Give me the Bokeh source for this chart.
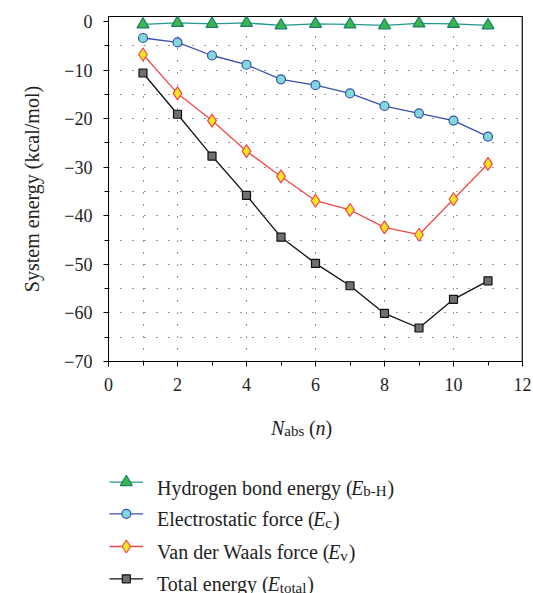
from bokeh.plotting import figure
from bokeh.layouts import column
from bokeh.models import Range1d, FixedTicker, Span, Title
from bokeh.core.properties import value
from bokeh.embed import file_html
from bokeh.resources import INLINE

n_abs = [1, 2, 3, 4, 5, 6, 7, 8, 9, 10, 11]
e_hbond = [-0.6, -0.3, -0.5, -0.3, -0.8, -0.5, -0.6, -0.8, -0.4, -0.5, -0.8]
e_elec = [-3.4, -4.3, -7.0, -8.9, -11.9, -13.1, -14.8, -17.4, -18.9, -20.4, -23.7]
e_vdw = [-6.8, -14.8, -20.4, -26.7, -31.9, -36.9, -38.8, -42.4, -43.9, -36.6, -29.3]
e_total = [-10.6, -19.1, -27.7, -35.8, -44.4, -49.8, -54.4, -60.1, -63.1, -57.2, -53.4]

y_ticks = [0, -10, -20, -30, -40, -50, -60, -70]
x_ticks = [0, 2, 4, 6, 8, 10, 12]
y_title = "System energy (kcal/mol)"

# legend label pieces: (text before symbol, subscript)
legend_main = ["Hydrogen bond energy (", "Electrostatic force (", "Van der Waals force (", "Total energy ("]
legend_sub = ["b-H", "c", "v", "total"]

SERIF = "'Liberation Serif', 'DejaVu Serif', serif"
TXT = "#222222"

# Times-compatible advance widths (per 1000 em) used only to place text pieces
_W = {" ": 250, "(": 333, ")": 333, "-": 333,
      "E": 611, "H": 722, "T": 611, "V": 722, "W": 944, "N": 722,
      "a": 444, "b": 500, "c": 444, "d": 500, "e": 444, "f": 333, "g": 500, "h": 500,
      "i": 278, "l": 278, "m": 778, "n": 500, "o": 500, "r": 333, "s": 389, "t": 278,
      "v": 500, "w": 722, "y": 500}
_K = {"Va": -111, "Wa": -80, "To": -80}
def tw(s, size):
    w = sum(_W.get(c, 500) for c in s)
    w += sum(_K.get(s[i:i + 2], 0) for i in range(len(s) - 1))
    return w * size / 1000.0

p = figure(width=533, height=398, output_backend="svg", toolbar_location=None,
           title_location=None,
           x_range=Range1d(0, 12), y_range=Range1d(-70, 1.03),
           min_border_left=104, min_border_right=11, min_border_top=16,
           min_border_bottom=37)
p.outline_line_color = "black"
p.outline_line_width = 1
p.background_fill_color = "white"

# axes
p.xaxis.ticker = FixedTicker(ticks=x_ticks, minor_ticks=[1, 3, 5, 7, 9, 11])
p.yaxis.ticker = FixedTicker(ticks=y_ticks, minor_ticks=[-5, -15, -25, -35, -45, -55, -65])
p.yaxis.major_label_overrides = {t: ("−%d" % -t if t < 0 else str(t)) for t in y_ticks}
for ax in (p.xaxis, p.yaxis):
    ax.major_tick_in = 0
    ax.major_tick_out = 5
    ax.minor_tick_in = 0
    ax.minor_tick_out = 4
    ax.axis_line_color = "black"
    ax.major_tick_line_color = "black"
    ax.minor_tick_line_color = "black"
    ax.major_label_text_font = SERIF
    ax.major_label_text_font_size = "18px"
    ax.major_label_text_color = TXT
p.xaxis.major_label_standoff = 11
p.yaxis.major_label_standoff = 11

# y title: a side title, shifted up along the axis as in the reference
p.add_layout(Title(text=y_title, align="center", offset=31, standoff=37,
                   text_font=SERIF, text_font_size="20px", text_font_style="normal",
                   text_color=TXT), "left")

# dotted grid
p.xgrid.ticker = FixedTicker(ticks=[1, 2, 4, 6, 8, 10])
p.ygrid.ticker = FixedTicker(ticks=[-65, -60, -55, -50, -45, -40, -35, -30, -25, -20, -15, -10, -5])
for g in (p.xgrid, p.ygrid):
    g.grid_line_color = "#333333"
    g.grid_line_dash = "1 11"
    g.grid_line_width = 1

p.add_layout(Span(location=12, dimension="height", line_color="#555555", line_width=2))

styles = [
    ("triangle", 12, "#3cb54a", "#15806f", "#1f9a8c"),
    ("circle", 9, "#80d8d8", "#3a4fb0", "#3a4fb0"),
    ("diamond", 13, "#f7e425", "#f04848", "#f04848"),
    ("square", 8, "#707070", "#111111", "#111111"),
]
for ys, (mk, ms, fc, lc, lnc) in zip([e_hbond, e_elec, e_vdw, e_total], styles):
    p.line(n_abs, ys, line_color=lnc, line_width=1.3)
    p.scatter(n_abs, ys, marker=mk, size=ms, fill_color=fc, line_color=lc, line_width=1.2)

# lower panel: x-axis title and legend, coordinates are page pixels minus 398
q = figure(width=533, height=195, output_backend="svg", toolbar_location=None,
           title_location=None, x_axis_location=None, y_axis_location=None,
           x_range=Range1d(104, 522), y_range=Range1d(195, 0),
           min_border_left=104, min_border_right=11,
           min_border_top=0, min_border_bottom=0)
q.grid.visible = False
q.outline_line_color = None

def piece(x, y, txt, size, style="normal"):
    q.text(x=[x], y=[y], text=[txt],
           text_font=value(SERIF), text_font_size="%dpx" % size,
           text_font_style=style, text_color=TXT,
           text_baseline="alphabetic", text_align="left")

MAIN, SUB = 20, 15

# x title: N_abs (n)
x0, base = 268, 29
piece(x0, base, "N", MAIN, "italic")
x0 += tw("N", MAIN) * 0.93
piece(x0, base + 3, "abs", SUB)
x0 += tw("abs", SUB) + tw(" ", MAIN)
piece(x0, base, "(", MAIN)
x0 += tw("(", MAIN)
piece(x0, base, "n", MAIN, "italic")
x0 += tw("n", MAIN)
piece(x0, base, ")", MAIN)

legend_y = [83.7, 115.3, 148.0, 180.3]
for name, sub, ly, (mk, ms, fc, lc, lnc) in zip(legend_main, legend_sub, legend_y, styles):
    q.line([105, 139], [ly, ly], line_color=lnc, line_width=1.3)
    q.scatter([122], [ly], marker=mk, size=ms, fill_color=fc, line_color=lc, line_width=1.2)
    bl = ly + 5.5
    x0 = 153
    piece(x0, bl, name, MAIN)
    x0 += tw(name, MAIN)
    piece(x0, bl, "E", MAIN, "italic")
    x0 += tw("E", MAIN)
    piece(x0, bl + 3.5, sub, SUB)
    x0 += tw(sub, SUB) + 1
    piece(x0, bl, ")", MAIN)

layout = column(p, q, spacing=0)
open("out.html", "w").write(file_html(layout, INLINE))
